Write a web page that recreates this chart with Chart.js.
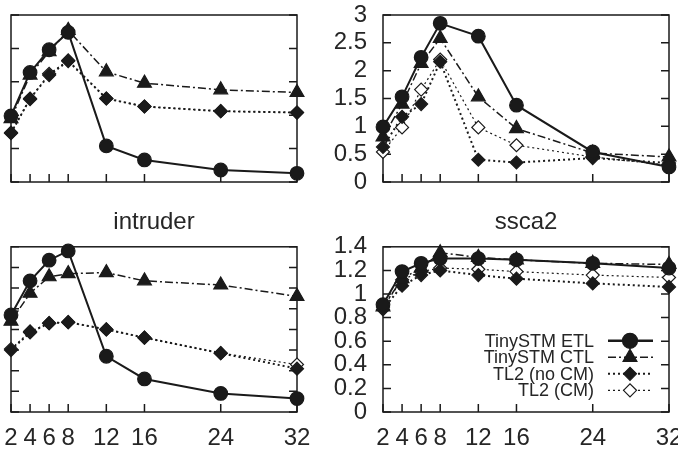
<!DOCTYPE html>
<html>
<head>
<meta charset="utf-8">
<script src="https://cdn.jsdelivr.net/npm/chart.js@4.4.1/dist/chart.umd.min.js"></script>
<style>
  html, body { margin: 0; padding: 0; background: #fff; }
  #fig { position: relative; width: 678px; height: 450px; overflow: hidden; background: #fff; }
  #fig canvas { position: absolute; }
</style>
</head>
<body>
<div id="fig">
  <canvas id="tl"></canvas>
  <canvas id="tr"></canvas>
  <canvas id="bl"></canvas>
  <canvas id="br"></canvas>
</div>
<script>
/* speedup vs. number of threads, four STAMP panels */

const THREADS = [2, 4, 6, 8, 12, 16, 24, 32];
const SERIES = ["TinySTM ETL", "TinySTM CTL", "TL2 (no CM)", "TL2 (CM)"];

// top-left panel (title and y labels fall outside the crop)
const tlEtl  = [0.99, 1.64, 1.98, 2.24, 0.54, 0.33, 0.18, 0.13];
const tlCtl  = [0.95, 1.60, 1.95, 2.27, 1.65, 1.48, 1.38, 1.34];
const tlNoCm = [0.73, 1.25, 1.60, 1.81, 1.25, 1.13, 1.06, 1.04];
const tlCm   = [0.74, 1.24, 1.62, 1.82, 1.25, 1.13, 1.06, 1.04];

// top-right panel
const trEtl  = [0.99, 1.53, 2.24, 2.85, 2.62, 1.38, 0.54, 0.27];
const trCtl  = [0.81, 1.40, 2.13, 2.58, 1.53, 0.96, 0.52, 0.45];
const trNoCm = [0.63, 1.17, 1.40, 2.16, 0.40, 0.35, 0.43, 0.34];
const trCm   = [0.54, 0.98, 1.66, 2.20, 0.98, 0.66, 0.45, 0.30];

// intruder
const inEtl  = [0.94, 1.27, 1.47, 1.56, 0.54, 0.32, 0.18, 0.13];
const inCtl  = [0.88, 1.15, 1.31, 1.34, 1.35, 1.27, 1.23, 1.12];
const inNoCm = [0.60, 0.77, 0.86, 0.87, 0.80, 0.72, 0.57, 0.42];
const inCm   = [0.61, 0.78, 0.86, 0.87, 0.80, 0.72, 0.57, 0.46];

// ssca2
const ssEtl  = [0.91, 1.19, 1.26, 1.30, 1.30, 1.29, 1.26, 1.22];
const ssCtl  = [0.89, 1.13, 1.22, 1.35, 1.31, 1.29, 1.26, 1.25];
const ssNoCm = [0.87, 1.07, 1.16, 1.20, 1.16, 1.13, 1.09, 1.06];
const ssCm   = [0.89, 1.12, 1.19, 1.22, 1.21, 1.19, 1.16, 1.14];

const FONT = "'Liberation Sans', Arial, sans-serif";
const INK = "#1a1a1a";
const TEXT = "#262626";

const STYLES = [
  { pointStyle: "circle",   radius: 6.8, width: 2,   dash: [],           fill: INK },
  { pointStyle: "triangle", radius: 8,   width: 1.5, dash: [8, 3, 2, 3], fill: INK },
  { pointStyle: "rectRot",  radius: 6.5, width: 2,   dash: [2, 3],       fill: INK },
  { pointStyle: "rectRot",  radius: 6.5, width: 1.2, dash: [2, 3],       fill: "#fff" },
];

/* ── box + inward ticks, gnuplot style ────────────────── */
const framePlugin = {
  id: "frame",
  beforeDatasetsDraw(chart) {
    const { ctx, chartArea: a, scales } = chart;
    const len = 8;
    ctx.save();
    ctx.strokeStyle = INK;
    ctx.lineWidth = 1.5;
    ctx.strokeRect(a.left, a.top, a.right - a.left, a.bottom - a.top);
    ctx.beginPath();
    scales.y.ticks.forEach((t) => {
      const y = scales.y.getPixelForValue(t.value);
      ctx.moveTo(a.left, y); ctx.lineTo(a.left + len, y);
      ctx.moveTo(a.right, y); ctx.lineTo(a.right - len, y);
    });
    scales.x.ticks.forEach((t) => {
      const x = scales.x.getPixelForValue(t.value);
      ctx.moveTo(x, a.bottom); ctx.lineTo(x, a.bottom - len);
    });
    ctx.stroke();
    ctx.restore();
  },
};

/* ── key: right-aligned text, sample on the right ─────── */
const keyPlugin = {
  id: "key",
  afterDatasetsDraw(chart, args, opts) {
    if (!opts.show) return;
    const { ctx, chartArea: a } = chart;
    ctx.save();
    ctx.font = `18px ${FONT}`;
    ctx.textAlign = "right";
    ctx.textBaseline = "middle";
    chart.data.datasets.forEach((ds, i) => {
      const st = STYLES[i];
      const y = a.top + 94 + i * 16.5;
      ctx.fillStyle = TEXT;
      ctx.fillText(ds.label, a.right - 75, y + 1);
      ctx.strokeStyle = INK;
      ctx.lineWidth = i === 0 ? 2.5 : st.width;
      ctx.setLineDash(st.dash);
      ctx.beginPath();
      ctx.moveTo(a.right - 61, y);
      ctx.lineTo(a.right - 16, y);
      ctx.stroke();
      ctx.setLineDash([]);
      ctx.fillStyle = st.fill;
      ctx.lineWidth = 1.2;
      Chart.helpers.drawPoint(ctx, {
        pointStyle: st.pointStyle,
        radius: i === 0 ? 7.5 : st.radius,
        rotation: 0,
        borderWidth: 1.2,
      }, a.right - 39, y);
    });
    ctx.restore();
  },
};

const tickText = (v) => String(Math.round(v * 10) / 10);

function noPad(s) {
  s.paddingTop = 0; s.paddingBottom = 0;
  s.paddingLeft = 0; s.paddingRight = 0;
}

const AXIS_W = 70;

/* ── one panel ────────────────────────────────────────── */
function makePanel(id, pos, title, yMax, yStep, series, showXLabels, showKey) {
  const cv = document.getElementById(id);
  cv.width = pos.w;
  cv.height = pos.h;
  cv.style.left = pos.x + "px";
  cv.style.top = pos.y + "px";

  const datasets = series.map((vals, i) => {
    const st = STYLES[i];
    return {
      label: SERIES[i],
      data: THREADS.map((t, k) => ({ x: t, y: vals[k] })),
      borderColor: INK,
      borderWidth: st.width,
      borderDash: st.dash,
      pointStyle: st.pointStyle,
      pointRadius: st.radius,
      pointBackgroundColor: st.fill,
      pointBorderColor: INK,
      pointBorderWidth: 1.2,
      tension: 0,
      clip: false,
    };
  });

  new Chart(cv, {
    type: "line",
    data: { datasets },
    options: {
      responsive: false,
      animation: false,
      events: [],
      layout: { padding: { top: title ? 0 : 10, right: 0, bottom: 0, left: 0 } },
      plugins: {
        legend: { display: false },
        tooltip: { enabled: false },
        title: {
          display: !!title,
          text: title,
          color: TEXT,
          font: { family: FONT, size: 24, weight: "normal", lineHeight: 1.2 },
          padding: { top: 0, bottom: 10 },
        },
        key: { show: showKey },
      },
      scales: {
        x: {
          type: "linear",
          min: 2,
          max: 32,
          afterBuildTicks: (s) => { s.ticks = THREADS.map((v) => ({ value: v })); },
          afterFit: (s) => { s.height = showXLabels ? 40 : 10; noPad(s); },
          grid: { display: false, drawTicks: false },
          border: { display: false },
          ticks: {
            display: showXLabels,
            autoSkip: false,
            maxRotation: 0,
            padding: 12,
            color: TEXT,
            font: { family: FONT, size: 24 },
          },
        },
        y: {
          min: 0,
          max: yMax,
          afterFit: (s) => { s.width = AXIS_W; noPad(s); },
          grid: { display: false, drawTicks: false },
          border: { display: false },
          ticks: {
            stepSize: yStep,
            autoSkip: false,
            padding: 16,
            color: TEXT,
            font: { family: FONT, size: 24 },
            callback: tickText,
          },
        },
        // mirrored right side, only reserves room so the title centres on the box
        y2: {
          position: "right",
          min: 0,
          max: yMax,
          afterFit: (s) => { s.width = AXIS_W; noPad(s); },
          grid: { display: false, drawTicks: false },
          border: { display: false },
          ticks: { display: false },
        },
      },
    },
    plugins: [framePlugin, keyPlugin],
  });
}

Chart.register(keyPlugin);

const W = AXIS_W * 2 + 286;
makePanel("tl", { x: -59, y: 5, w: W, h: 187 }, "", 2.5, 0.5,
  [tlEtl, tlCtl, tlNoCm, tlCm], false, false);
makePanel("tr", { x: 313, y: 5, w: W, h: 187 }, "", 3, 0.5,
  [trEtl, trCtl, trNoCm, trCm], false, false);
makePanel("bl", { x: -59, y: 208.2, w: W, h: 244.8 }, "intruder", 1.6, 0.2,
  [inEtl, inCtl, inNoCm, inCm], true, false);
makePanel("br", { x: 313, y: 208.2, w: W, h: 244.8 }, "ssca2", 1.4, 0.2,
  [ssEtl, ssCtl, ssNoCm, ssCm], true, true);
</script>
</body>
</html>
